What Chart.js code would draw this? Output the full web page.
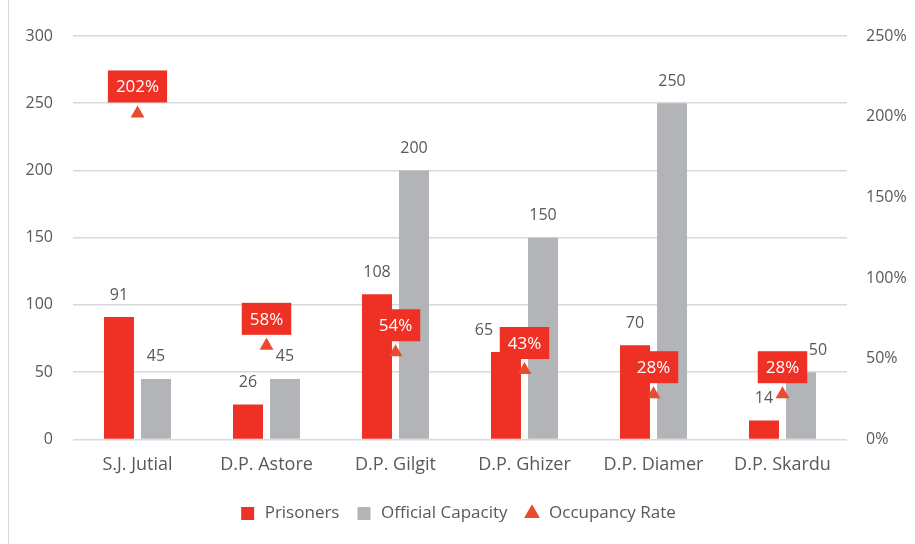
<!DOCTYPE html>
<html>
<head>
<meta charset="utf-8">
<script src="https://cdn.jsdelivr.net/npm/chart.js@4.4.1/dist/chart.umd.min.js"></script>
<style>
  body { margin: 0; background: #fff; }
  #wrap { position: relative; width: 915px; height: 544px; }
  #frame { position: absolute; left: 8px; top: 0; width: 1px; height: 544px; background: #d9d9d9; }
</style>
</head>
<body>
<div id="wrap">
  <canvas id="myChart" width="915" height="544"></canvas>
  <div id="frame"></div>
</div>
<script>
const prisons = ['S.J. Jutial', 'D.P. Astore', 'D.P. Gilgit', 'D.P. Ghizer', 'D.P. Diamer', 'D.P. Skardu'];
const prisoners = [91, 26, 108, 65, 70, 14];
const capacity = [45, 45, 200, 150, 250, 50];
const occupancy = [202, 58, 54, 43, 28, 28];

const textColor = '#595959';
const fontFamily = '"Open Sans", sans-serif';

// a couple of bar labels were nudged sideways in the original to dodge the red boxes
const labelShift = { '0-3': -22, '1-5': 17 };

const labelPlugin = {
    id: 'valueLabels',
    afterDatasetsDraw(chart) {
        const ctx = chart.ctx;
        ctx.save();
        ctx.font = '16px ' + fontFamily;
        ctx.textAlign = 'center';
        ctx.textBaseline = 'middle';
        [0, 1].forEach(i => {
            const meta = chart.getDatasetMeta(i);
            const data = chart.data.datasets[i].data;
            meta.data.forEach((el, j) => {
                let dx = labelShift[i + '-' + j] || 0;
                ctx.fillStyle = textColor;
                ctx.fillText(data[j], el.x + dx, el.y - 22);
            });
        });
        ctx.font = '17px ' + fontFamily;
        const meta = chart.getDatasetMeta(2);
        meta.data.forEach((el, j) => {
            let txt = occupancy[j] + '%';
            let w = ctx.measureText(txt).width + 16;
            let h = 32;
            let cy = el.y - 27;
            ctx.fillStyle = '#ee3124';
            ctx.fillRect(el.x - w / 2, cy - h / 2, w, h);
            ctx.fillStyle = '#ffffff';
            ctx.fillText(txt, el.x, cy + 1);
        });
        ctx.restore();
    }
};

const ctx = document.getElementById('myChart').getContext('2d');
const myChart = new Chart(ctx, {
    type: 'bar',
    data: {
        labels: prisons,
        datasets: [{
            label: 'Prisoners',
            data: prisoners,
            backgroundColor: '#ee3124',
            pointStyle: 'rect',
            yAxisID: 'y',
            order: 2
        }, {
            label: 'Official Capacity',
            data: capacity,
            backgroundColor: '#b3b4b8',
            pointStyle: 'rect',
            yAxisID: 'y',
            order: 2
        }, {
            type: 'line',
            label: 'Occupancy Rate',
            data: occupancy,
            showLine: false,
            pointStyle: 'triangle',
            pointRadius: 8,
            pointHoverRadius: 8,
            backgroundColor: '#ea4a2e',
            borderColor: '#ea4a2e',
            borderWidth: 0,
            yAxisID: 'y1',
            order: 1
        }]
    },
    options: {
        responsive: false,
        animation: false,
        categoryPercentage: 0.574,
        barPercentage: 0.81,
        layout: { padding: { top: 36, left: 0, right: 0, bottom: 12 } },
        plugins: {
            tooltip: { enabled: false },
            legend: {
                position: 'bottom',
                labels: {
                    usePointStyle: true,
                    boxHeight: 13,
                    padding: 16,
                    color: textColor,
                    font: { family: fontFamily, size: 17 },
                    sort: (a, b) => a.datasetIndex - b.datasetIndex
                }
            }
        },
        scales: {
            x: {
                afterFit(scale) { scale.height += 6; },
                grid: { display: false },
                border: { display: false },
                ticks: { color: textColor, font: { family: fontFamily, size: 18 }, padding: 7 }
            },
            y: {
                position: 'left',
                min: 0,
                max: 300,
                afterFit(scale) { scale.width = 73; },
                grid: { color: '#d9d9d9', lineWidth: 1.5, drawTicks: false },
                border: { display: false },
                ticks: { stepSize: 50, color: textColor, font: { family: fontFamily, size: 16 }, padding: 20 }
            },
            y1: {
                position: 'right',
                min: 0,
                max: 250,
                afterFit(scale) { scale.width = 68; },
                grid: { display: false, drawTicks: false },
                border: { display: false },
                ticks: {
                    stepSize: 50,
                    color: textColor,
                    font: { family: fontFamily, size: 16 },
                    padding: 19,
                    callback: v => v + '%'
                }
            }
        }
    },
    plugins: [labelPlugin]
});
</script>
</body>
</html>
